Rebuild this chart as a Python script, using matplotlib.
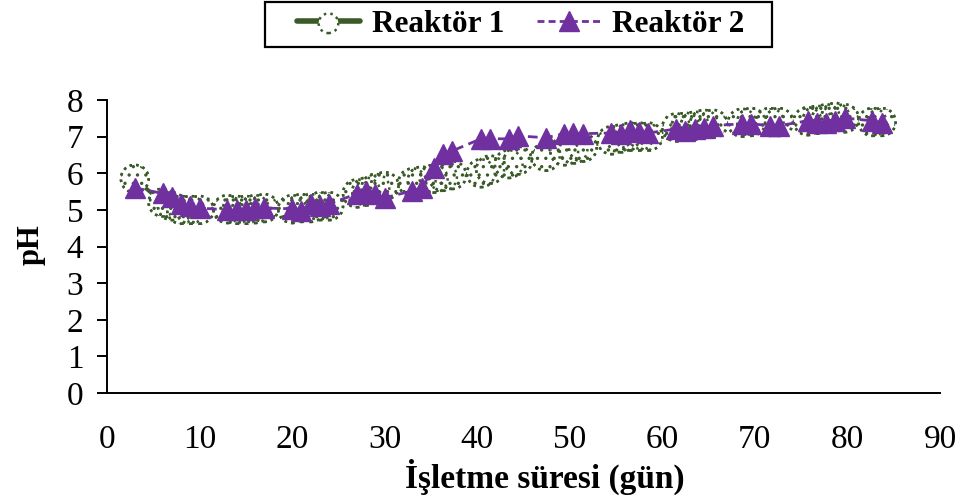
import matplotlib
matplotlib.use("Agg")
import matplotlib.pyplot as plt
from matplotlib.lines import Line2D
from matplotlib.patches import Rectangle
from matplotlib.legend_handler import HandlerTuple

# operating time (days) and pH of the two reactors
days = [3, 6, 7, 8, 9, 10, 13, 14, 15, 16, 17, 20, 21, 22, 23, 24,
        27, 28, 29, 30, 33, 34, 35.3, 36.3, 37.3, 40.4, 41.4, 43.4, 44.4,
        47.4, 49.4, 50.4, 51.4, 54.5, 55.5, 56.5, 57.5, 58.5,
        61.5, 62.5, 63.5, 64.5, 65.5, 68.6, 69.6, 71.6, 72.6,
        75.7, 76.7, 77.7, 78.7, 79.7, 82.7, 83.7]

ph_r1 = [5.85, 5.2, 5.1, 5.0, 5.0, 5.0, 5.02, 5.0, 5.0, 5.02, 5.05,
         5.02, 5.05, 5.05, 5.1, 5.1, 5.45, 5.5, 5.6, 5.65,
         5.75, 5.8, 5.85, 5.9, 5.95, 6.0, 6.1, 6.25, 6.35,
         6.45, 6.6, 6.65, 6.7, 6.9, 6.95, 7.0, 7.0, 7.0,
         7.25, 7.27, 7.3, 7.35, 7.35, 7.38, 7.4, 7.4, 7.4,
         7.42, 7.46, 7.5, 7.54, 7.5, 7.4, 7.4]

ph_r2 = [5.6, 5.45, 5.35, 5.15, 5.1, 5.05, 5.0, 5.0, 5.0, 5.05, 5.05,
         5.03, 4.97, 5.16, 5.1, 5.16, 5.44, 5.52, 5.44, 5.33,
         5.52, 5.6, 6.15, 6.53, 6.61, 6.94, 6.94, 6.94, 7.02,
         6.97, 7.08, 7.1, 7.08, 7.1, 7.08, 7.19, 7.13, 7.1,
         7.21, 7.16, 7.21, 7.24, 7.3, 7.35, 7.35, 7.3, 7.3,
         7.43, 7.38, 7.38, 7.43, 7.51, 7.43, 7.38]

x_ticks = [0, 10, 20, 30, 40, 50, 60, 70, 80, 90]
y_ticks = [0, 1, 2, 3, 4, 5, 6, 7, 8]

green = "#3a5a28"
purple = "#7030A0"

plt.rcParams["font.family"] = ["Liberation Serif", "DejaVu Serif"]
plt.rcParams["hatch.linewidth"] = 1.2

fig = plt.figure(figsize=(9.68, 4.97), dpi=100)
ax = fig.add_axes([107 / 968, 104 / 497, 833 / 968, 293 / 497])

# Reaktör 1: solid line under white dotted circles, rings drawn again on top
ax.plot(days, ph_r1, color=green, lw=2.8, zorder=2)
ax.scatter(days, ph_r1, s=400, facecolors="white", edgecolors=green,
           linestyles=":", linewidths=1.8, hatch="..", zorder=3)
ax.scatter(days, ph_r1, s=400, facecolors="none", edgecolors=green,
           linestyles=":", linewidths=1.8, zorder=3.5)

# Reaktör 2: dashed purple line with filled triangles
ax.plot(days, ph_r2, color=purple, lw=2, ls=(0, (3.5, 2)), marker="^",
        markersize=14.5, markerfacecolor=purple, markeredgecolor=purple,
        zorder=4)

ax.set_xlim(0, 90)
ax.set_ylim(0, 8)
ax.set_xticks(x_ticks)
ax.set_yticks(y_ticks)
ax.tick_params(axis="x", length=0, pad=23, labelsize=24)
ax.tick_params(axis="y", direction="out", length=7, width=1.4, pad=10,
               labelsize=24)
for side in ["top", "right"]:
    ax.spines[side].set_visible(False)
for side in ["left", "bottom"]:
    ax.spines[side].set_linewidth(1.4)

ax.set_xlabel("İşletme süresi (gün)", fontsize=24, fontweight="bold")
ax.xaxis.set_label_coords(0.526, -0.225)
ax.set_ylabel("pH", fontsize=22, fontweight="bold")
ax.yaxis.set_label_coords(-0.074, 0.505)

# legend handles
h1_line = Line2D([], [], color=green, lw=4, solid_capstyle="round")
h1_mark = ax.scatter([], [], s=200, facecolors="white", edgecolors=green,
                     linestyles=":", linewidths=1.8)
h2 = Line2D([], [], color=purple, lw=2, ls=(0, (2.5, 1.5)), marker="^",
            markersize=15, markerfacecolor=purple, markeredgecolor=purple)

fig.legend([(h1_line, h1_mark), h2], ["Reaktör 1", "Reaktör 2"],
           handler_map={tuple: HandlerTuple(ndivide=1)},
           loc="center", bbox_to_anchor=(521 / 968, 1 - 24 / 497), ncol=2,
           frameon=False, prop={"size": 22.5, "weight": "bold"},
           handlelength=2.0, columnspacing=1.05, handletextpad=0.4,
           borderpad=0.2, scatterpoints=1)
fig.patches.append(Rectangle((265 / 968, 1 - 47 / 497), 507 / 968, 45 / 497,
                             transform=fig.transFigure, fill=False,
                             edgecolor="black", lw=1.6))

fig.savefig("out.png", dpi=100)
